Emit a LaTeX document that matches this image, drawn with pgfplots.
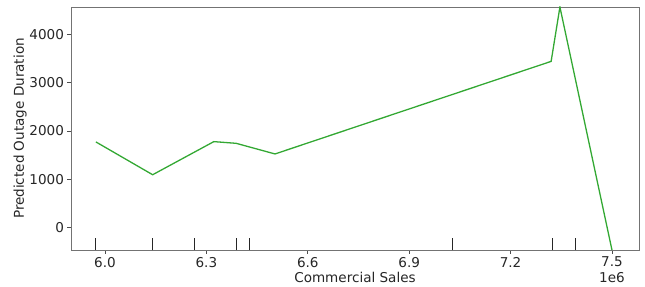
\documentclass[border=0pt]{standalone}
\usepackage{pgfplots}
\pgfplotsset{compat=1.18}
\usepackage{fontspec}
\setmainfont{DejaVu Sans}
\definecolor{tabgreen}{HTML}{33A833}
\definecolor{txt}{HTML}{262626}
\begin{document}
\begin{tikzpicture}
\path[use as bounding box] (-71bp,-37bp) rectangle (574bp,250bp);
\begin{axis}[
  at={(0,0)}, anchor=south west,
  scale only axis, width=568bp, height=243bp,
  xmin=5.8994, xmax=7.58, ymin=-462, ymax=4565,
  xtick={6.0,6.3,6.6,6.9,7.2,7.5},
  ytick={0,1000,2000,3000,4000},
  xticklabel style={/pgf/number format/.cd,fixed,fixed zerofill,precision=1},
  yticklabel style={/pgf/number format/1000 sep={}},
  /pgf/number format/assume math mode=true,
  scaled x ticks=false,
  tick align=outside, tick pos=left,
  major tick length=3.5bp,
  every tick/.style={black!70, line width=0.6pt},
  axis line style={black!55, line width=0.7pt},
  tick label style={font=\fontsize{13.6}{15}\selectfont, text=txt},
  label style={font=\fontsize{13.6}{15}\selectfont, text=txt},
  xlabel={Commercial Sales},
  ylabel={Predicted Outage Duration},
  xlabel style={at={(axis description cs:0.5,0)}, anchor=base, yshift=-32bp},
  ylabel style={yshift=-4bp},
  clip mode=individual,
  unbounded coords=jump,
]
\addplot[tabgreen, line width=1.3pt] coordinates {
  (5.973,1774) (6.141,1095) (6.322,1780) (6.388,1745) (6.503,1525)
  (7.320,3440) (7.346,4565) (7.500,-462)
};
\addplot[black!85, line width=0.8pt] coordinates {
  (5.973,-462) (5.973,-211) (nan,nan)
  (6.141,-462) (6.141,-211) (nan,nan)
  (6.265,-462) (6.265,-211) (nan,nan)
  (6.390,-462) (6.390,-211) (nan,nan)
  (6.427,-462) (6.427,-211) (nan,nan)
  (7.028,-462) (7.028,-211) (nan,nan)
  (7.323,-462) (7.323,-211) (nan,nan)
  (7.391,-462) (7.391,-211)
};
\addplot[black!85, line width=1.6pt] coordinates {(6.141,-462) (6.141,-211)};
\node[font=\fontsize{13.6}{15}\selectfont, text=txt, anchor=base] at (axis cs:7.5,-462) [yshift=-32bp] {1e6};
\end{axis}
\end{tikzpicture}
\end{document}
